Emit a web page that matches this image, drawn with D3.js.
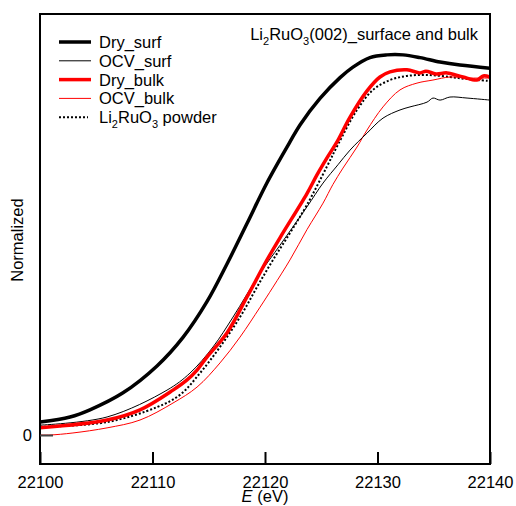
<!DOCTYPE html>
<html>
<head>
<meta charset="utf-8">
<script src="https://cdn.jsdelivr.net/npm/d3@7"></script>
<style>
  body { margin: 0; background: #fff; }
  text { font-family: "Liberation Sans", Arial, Helvetica, sans-serif; }
</style>
</head>
<body>
<div id="chart"></div>
<script>
// values: [energy eV, normalized absorption]
var drySurf = [[22100,0.038],[22102.67,0.053],[22104.44,0.074],[22107.38,0.124],[22110.4,0.203],[22112.71,0.287],
  [22114.84,0.392],[22116.62,0.503],[22118.4,0.622],[22120.18,0.742],[22122.22,0.862],[22123.11,0.912],[22124.89,0.990],
  [22126.67,1.051],[22127.82,1.082],[22129.33,1.110],[22130.84,1.118],[22132.27,1.118],[22133.78,1.110],[22135.56,1.097],
  [22137.33,1.088],[22140,1.079]];
var ocvSurf = [[22100,0.029],[22105.96,0.053],[22111.29,0.132],[22113.33,0.182],[22115.38,0.259],[22117.16,0.347],
  [22119.56,0.476],[22121.33,0.558],[22123.73,0.671],[22125.16,0.741],[22126.49,0.795],[22127.56,0.838],[22129.07,0.888],
  [22130.49,0.932],[22132,0.956],[22132.89,0.965],[22134.4,0.979],[22134.93,0.991],[22135.56,0.985],[22136.44,0.994],
  [22137.96,0.991],[22140,0.985]];
var dryBulk = [[22100,0.021],[22105.96,0.044],[22108.89,0.074],[22111.82,0.132],[22113.07,0.162],[22113.96,0.191],
  [22114.84,0.229],[22116.62,0.3],[22118.4,0.406],[22120.18,0.515],[22121.33,0.58],[22123.73,0.71],[22124.62,0.765],
  [22125.51,0.815],[22126.4,0.862],[22127.56,0.935],[22129.07,1.012],[22130.22,1.053],[22131.11,1.068],[22132.62,1.074],
  [22133.78,1.065],[22134.3,1.070],[22135.2,1.062],[22136.18,1.065],[22137.6,1.053],[22138.84,1.044],[22139.4,1.056],
  [22140,1.053]];
var ocvBulk = [[22100,0],[22100.89,0],[22102.93,0.006],[22105.96,0.021],[22108.89,0.044],[22111.82,0.094],
  [22113.96,0.141],[22116,0.212],[22117.78,0.288],[22119.56,0.376],[22120.71,0.435],[22122.22,0.515],[22123.73,0.604],
  [22125.16,0.682],[22126.04,0.737],[22126.93,0.785],[22128.18,0.847],[22129.07,0.897],[22130.49,0.965],[22132,1.015],
  [22133.51,1.035],[22134.93,1.044],[22136.44,1.053],[22137.96,1.050],[22140,1.050]];
var powder = [[22100,0.024],[22105.96,0.038],[22110.4,0.082],[22112.44,0.118],[22114.22,0.182],[22116,0.259],
  [22117.78,0.347],[22119.29,0.435],[22120.71,0.515],[22122.22,0.594],[22123.73,0.677],[22125.51,0.79],[22126.5,0.855],
  [22128.18,0.956],[22129.6,1.015],[22131.11,1.044],[22132.62,1.056],[22134.4,1.059],[22136.44,1.053],[22137.96,1.047],
  [22140,1.041]];

var xTicks = [22100, 22110, 22120, 22130, 22140];
var yTicks = [0];

var series = [
  {name: "Dry_surf", data: drySurf, color: "#000", width: 3.5, dash: null},
  {name: "OCV_surf", data: ocvSurf, color: "#000", width: 1, dash: null},
  {name: "Dry_bulk", data: dryBulk, color: "#f00", width: 3.5, dash: null},
  {name: "OCV_bulk", data: ocvBulk, color: "#f00", width: 1, dash: null},
  {name: "powder", data: powder, color: "#000", width: 2, dash: "2,2"}
];

var W = 516, H = 506;
var pLeft = 40, pRight = 490, pTop = 14, pBottom = 464;

var svg = d3.select("#chart").append("svg")
    .attr("width", W)
    .attr("height", H);

var x = d3.scaleLinear().domain([22100, 22140]).range([pLeft, pRight]);
var y = d3.scaleLinear().domain([0, 1]).range([435, 95]);

svg.append("clipPath").attr("id", "clip")
  .append("rect").attr("x", pLeft).attr("y", pTop).attr("width", pRight - pLeft).attr("height", pBottom - pTop);

var line = d3.line()
    .x(d => x(d[0]))
    .y(d => y(d[1]))
    .curve(d3.curveCatmullRom.alpha(0.5));

// draw powder first so the others sit on top
var order = [4, 3, 1, 2, 0];
svg.append("g").attr("clip-path", "url(#clip)")
  .selectAll("path")
  .data(order.map(i => series[i]))
  .join("path")
    .attr("d", s => line(s.data))
    .attr("fill", "none")
    .attr("stroke", s => s.color)
    .attr("stroke-width", s => s.width)
    .attr("stroke-dasharray", s => s.dash)
    .attr("stroke-linejoin", "round");

// frame
svg.append("rect")
    .attr("x", pLeft).attr("y", pTop)
    .attr("width", pRight - pLeft).attr("height", pBottom - pTop)
    .attr("fill", "none").attr("stroke", "#000").attr("stroke-width", 2);

// x axis, ticks inward
var xAxis = d3.axisBottom(x).tickValues(xTicks).tickSize(-12).tickPadding(12).tickFormat(d3.format("d"));
var gx = svg.append("g").attr("transform", "translate(0," + pBottom + ")").call(xAxis);
gx.select(".domain").remove();
gx.selectAll("line").attr("stroke-width", 2);
gx.selectAll("text").attr("font-size", "16.5px").attr("fill", "#000")
  .attr("font-family", "'Liberation Sans', Arial, sans-serif");

// y axis
var yAxis = d3.axisLeft(y).tickValues(yTicks).tickSize(-13).tickPadding(8).tickFormat(d3.format("d"));
var gy = svg.append("g").attr("transform", "translate(" + pLeft + ",0)").call(yAxis);
gy.select(".domain").remove();
gy.selectAll("line").attr("stroke-width", 2).attr("stroke", "#444");
gy.selectAll("text").attr("font-size", "16.5px").attr("fill", "#000")
  .attr("font-family", "'Liberation Sans', Arial, sans-serif");

// axis titles
var xl = svg.append("text").attr("x", 265).attr("y", 502).attr("text-anchor", "middle").attr("font-size", "16.5px");
xl.append("tspan").attr("font-style", "italic").text("E");
xl.append("tspan").text(" (eV)");

svg.append("text")
    .attr("transform", "translate(23,240) rotate(-90)")
    .attr("text-anchor", "middle")
    .attr("font-size", "16.5px")
    .text("Normalized");

// title
var t = svg.append("text").attr("x", 478).attr("y", 40).attr("text-anchor", "end").attr("font-size", "16.5px");
t.append("tspan").text("Li");
t.append("tspan").attr("font-size", "11px").attr("dy", 5).text("2");
t.append("tspan").attr("dy", -5).text("RuO");
t.append("tspan").attr("font-size", "11px").attr("dy", 5).text("3");
t.append("tspan").attr("dy", -5).text("(002)_surface and bulk");

// legend
var lg = svg.append("g");
var rows = lg.selectAll("g").data(series).join("g")
    .attr("transform", (d, i) => "translate(0," + (42 + i * 18.8) + ")");
rows.append("line")
    .attr("x1", 59).attr("x2", d => d.dash ? 88 : 91)
    .attr("stroke", d => d.color)
    .attr("stroke-width", d => d.width)
    .attr("stroke-dasharray", d => d.dash);
rows.each(function(d) {
  var tx = d3.select(this).append("text").attr("x", 99).attr("y", 6).attr("font-size", "16.5px");
  if (d.name == "powder") {
    tx.append("tspan").text("Li");
    tx.append("tspan").attr("font-size", "11px").attr("dy", 5).text("2");
    tx.append("tspan").attr("dy", -5).text("RuO");
    tx.append("tspan").attr("font-size", "11px").attr("dy", 5).text("3");
    tx.append("tspan").attr("dy", -5).text(" powder");
  } else {
    tx.text(d.name);
  }
});
</script>
</body>
</html>
